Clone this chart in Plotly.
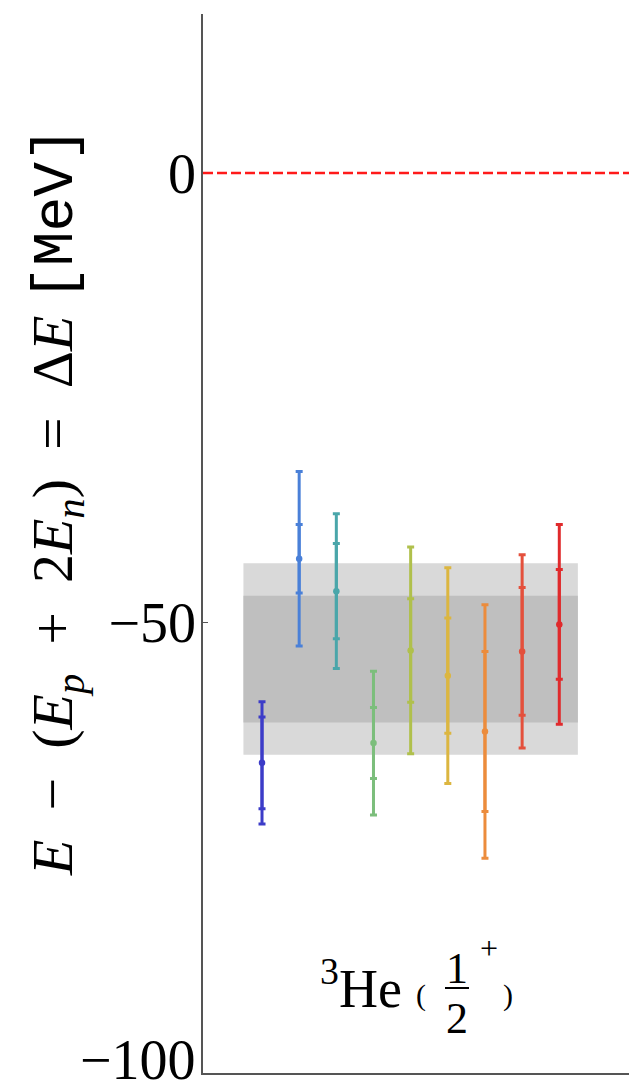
import plotly.graph_objects as go

# ---- data ----
ensembles = [1, 2, 3, 4, 5, 6, 7, 8, 9]
central = [-65.6, -42.9, -46.5, -63.4, -53.1, -55.9, -62.1, -53.2, -50.2]
err_inner = [5.1, 3.8, 5.3, 3.95, 5.75, 6.4, 8.9, 7.1, 6.1]
err_outer = [6.8, 9.7, 8.6, 8.0, 11.5, 12.0, 14.1, 10.75, 11.1]
colors = ["#3c3cc8", "#4a80d8", "#4aa6aa", "#7cbe7c", "#b0c04c",
          "#dcb640", "#ec8c3c", "#e4503c", "#e02a2c"]
band_center = -54.05
band_inner = 7.05
band_outer = 10.65
band_x = [0.5, 9.5]
y_ticks = [0, -50, -100]
y_tick_text = ["0", "\u221250", ""]
bottom_tick_text = "\u2212100"

W, H = 629, 1091
L, R, T, B = 203, 0, 14, 18

def px(x):
    return (x - L) / (W - L - R)

def py(y):
    return (H - B - y) / (H - T - B)

fig = go.Figure()

# bands
fig.add_shape(type="rect", xref="x", yref="y", x0=band_x[0], x1=band_x[1],
              y0=band_center - band_outer, y1=band_center + band_outer,
              fillcolor="#d9d9d9", line_width=0, layer="below")
fig.add_shape(type="rect", xref="x", yref="y", x0=band_x[0], x1=band_x[1],
              y0=band_center - band_inner, y1=band_center + band_inner,
              fillcolor="#bfbfbf", line_width=0, layer="below")

# zero line
fig.add_shape(type="line", xref="paper", yref="y", x0=0, x1=1, y0=0, y1=0,
              line=dict(color="#ff1a1a", width=2.5, dash="10px,4px"))

for i, x in enumerate(ensembles):
    c = colors[i]
    fig.add_trace(go.Scatter(
        x=[x], y=[central[i]], mode="markers",
        marker=dict(color=c, size=6.5, symbol="circle"),
        error_y=dict(type="data", array=[err_outer[i]], visible=True,
                     color=c, thickness=3, width=3.5),
        showlegend=False, hoverinfo="skip"))
    fig.add_trace(go.Scatter(
        x=[x], y=[central[i]], mode="markers",
        marker=dict(color=c, size=1, opacity=0),
        error_y=dict(type="data", array=[err_inner[i]], visible=True,
                     color=c, thickness=3, width=3.5),
        showlegend=False, hoverinfo="skip"))

serif = "Liberation Serif"

fig.update_layout(
    width=W, height=H,
    margin=dict(l=L, r=R, t=T, b=B, pad=0),
    paper_bgcolor="white", plot_bgcolor="white",
    showlegend=False,
    xaxis=dict(range=[-0.588, 10.876], showgrid=False, zeroline=False,
               showticklabels=False, ticks="", showline=True,
               linecolor="#555555", linewidth=1.5),
    yaxis=dict(range=[-100.1, 17.7], showgrid=False, zeroline=False,
               tickvals=y_ticks, ticktext=y_tick_text,
               ticks="inside", ticklen=5, tickcolor="#555555",
               showline=True, linecolor="#555555", linewidth=1.5,
               tickfont=dict(family=serif, size=56, color="black"),
               ticklabelstandoff=-6),
)

ann = []
# bottom tick label (would otherwise be hidden past the page edge)
ann.append(dict(text=bottom_tick_text, xref="paper", yref="paper",
                x=px(198), y=py(1060), xanchor="right", yanchor="middle",
                showarrow=False, font=dict(family=serif, size=56, color="black")))
# y axis title
ann.append(dict(
    text="<i>E</i>  \u2212  (<i>E</i><sub><i>p</i></sub>  +  2<i>E</i><sub><i>n</i></sub>)  =  \u0394<i>E</i> "
         "<span style='font-family:Liberation Mono'>[MeV]</span>",
    xref="paper", yref="paper", x=px(57), y=py(502), textangle=-90,
    showarrow=False, xanchor="center", yanchor="middle",
    font=dict(family=serif, size=58, color="black")))

# state label
ann.append(dict(text="<sup>3</sup>He", xref="paper", yref="paper",
                x=px(318), y=py(984), xanchor="left", yanchor="middle",
                showarrow=False, font=dict(family=serif, size=54, color="black")))
ann.append(dict(text="(", xref="paper", yref="paper", x=px(421), y=py(995),
                xanchor="center", yanchor="middle", showarrow=False,
                font=dict(family=serif, size=30, color="black")))
ann.append(dict(text="1", xref="paper", yref="paper", x=px(457), y=py(968),
                xanchor="center", yanchor="middle", showarrow=False,
                font=dict(family=serif, size=44, color="black")))
ann.append(dict(text="2", xref="paper", yref="paper", x=px(457), y=py(1018),
                xanchor="center", yanchor="middle", showarrow=False,
                font=dict(family=serif, size=44, color="black")))
ann.append(dict(text="+", xref="paper", yref="paper", x=px(489), y=py(948),
                xanchor="center", yanchor="middle", showarrow=False,
                font=dict(family=serif, size=32, color="black")))
ann.append(dict(text=")", xref="paper", yref="paper", x=px(508), y=py(995),
                xanchor="center", yanchor="middle", showarrow=False,
                font=dict(family=serif, size=30, color="black")))
fig.update_layout(annotations=ann)

fig.add_shape(type="line", xref="paper", yref="paper",
              x0=px(445), x1=px(469), y0=py(988), y1=py(988),
              line=dict(color="black", width=2))

fig.write_html("out.html")
